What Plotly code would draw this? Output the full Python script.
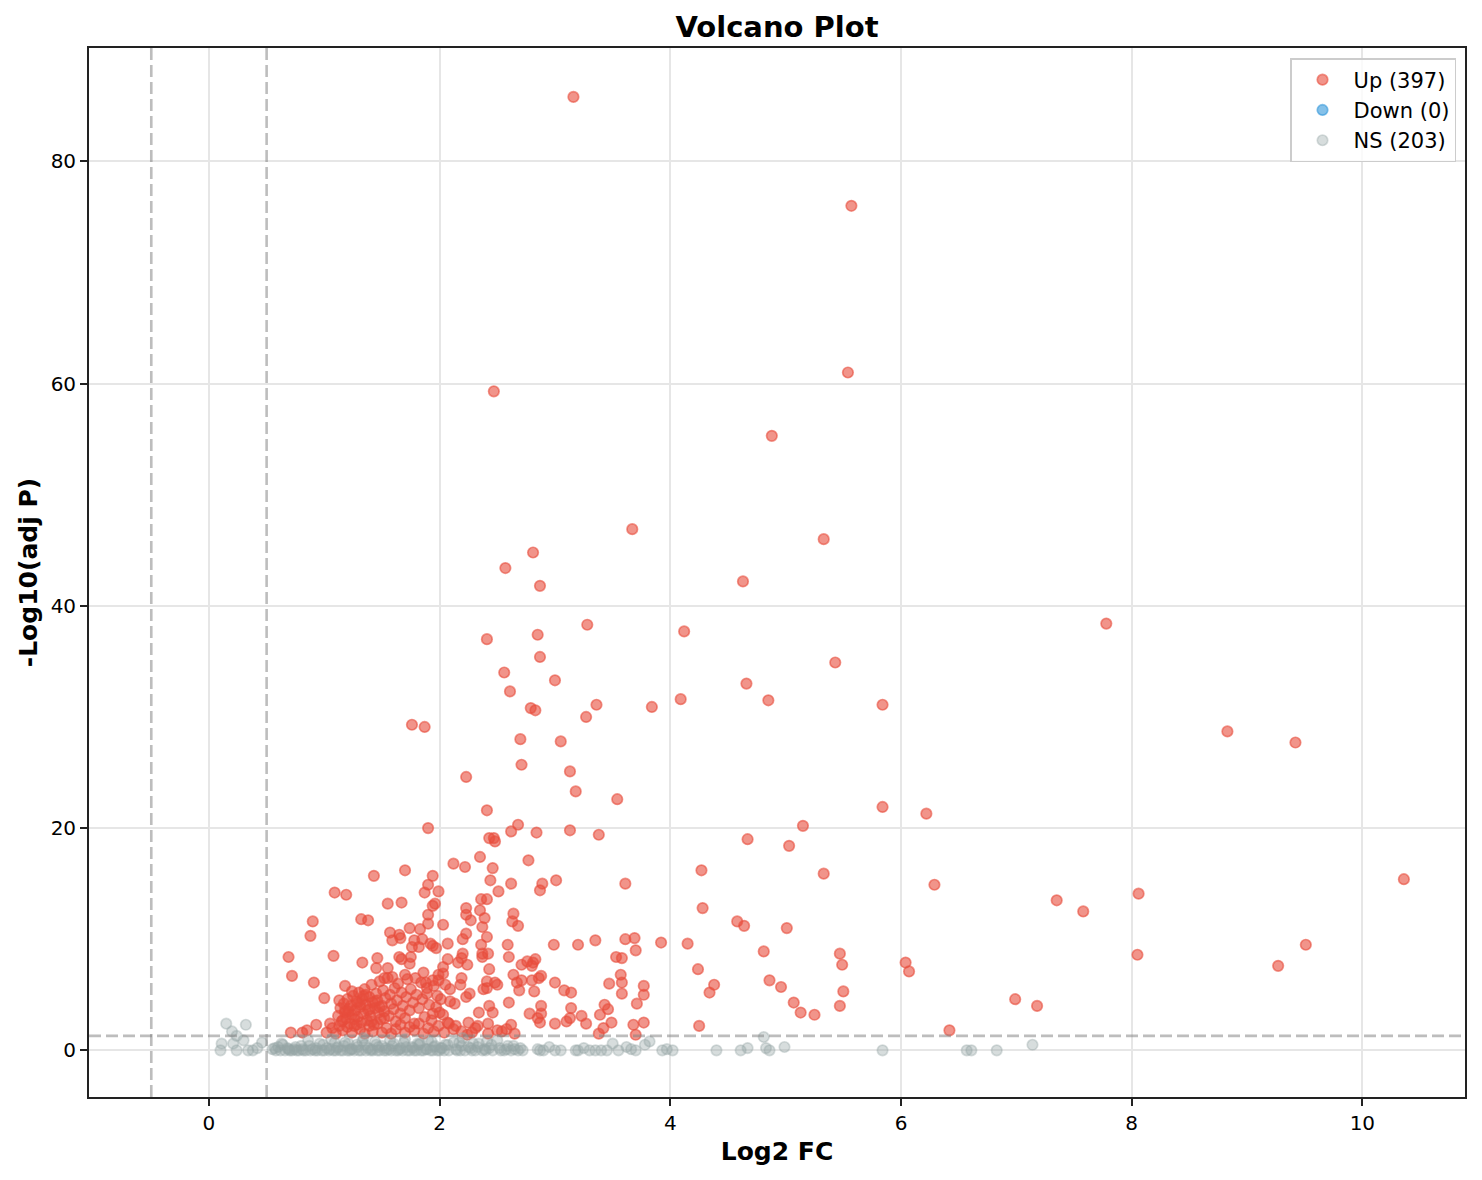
import plotly.graph_objects as go

# significantly up-regulated genes (log2 fold change, -log10 adjusted p)
up_log2fc = [
    3.16, 5.57, 5.54, 2.47, 4.88, 3.67, 5.33, 2.81, 2.57, 2.87, 4.63, 7.78, 3.28, 4.12, 2.41, 2.85,
    2.87, 5.43, 2.56, 3.00, 4.66, 2.61, 4.09, 4.85, 3.36, 5.84, 3.84, 2.79, 2.83, 3.27, 1.76, 1.87,
    8.83, 9.42, 2.70, 3.05, 2.71, 3.13, 2.23, 3.18, 3.54, 5.84, 2.41, 6.22, 2.68, 5.15, 1.90, 3.13,
    2.62, 2.84, 3.38, 2.43, 2.47, 2.48, 4.67, 5.03, 2.35, 2.77, 2.12, 2.22, 2.46, 1.70, 4.27, 5.33,
    1.94, 1.43, 10.36, 2.44, 3.01, 2.62, 2.89, 3.61, 6.29, 1.90, 2.87, 2.51, 1.87, 1.99, 1.09, 1.19,
    8.06, 7.35, 2.36, 2.41, 1.67, 1.55, 1.96, 1.94, 4.28, 2.23, 2.35, 7.58, 2.64, 2.23, 1.90, 2.39,
    1.32, 1.38, 2.27, 0.90, 4.58, 2.63, 1.90, 2.03, 2.68, 4.64, 2.37, 5.01, 1.74, 1.57, 2.23, 0.88,
    1.65, 2.41, 1.66, 3.69, 3.61, 2.20, 1.59, 3.35, 1.83, 1.78, 1.85, 3.92, 4.15, 2.07, 2.59, 2.99,
    3.20, 2.36, 9.51, 1.94, 1.97, 1.82, 1.76, 1.92, 3.70, 4.81, 5.47, 8.05, 2.37, 2.42, 2.20, 0.69,
    1.08, 2.37, 2.60, 3.53, 3.58, 1.46, 2.19, 2.07, 1.65, 1.67, 1.75, 1.74, 2.83, 2.76, 2.81, 1.33,
    2.16, 6.04, 2.71, 2.24, 5.49, 2.80, 9.27, 1.45, 1.55, 2.43, 4.24, 6.07, 2.03, 2.03, 1.86, 0.72,
    2.64, 3.57, 1.52, 1.59, 1.70, 1.79, 1.88, 1.94, 1.99, 2.19, 2.18, 2.41, 2.41, 2.38, 2.48, 2.50,
    2.67, 2.69, 2.71, 2.80, 2.82, 2.86, 2.88, 3.00, 3.08, 3.14, 3.47, 3.58, 3.58, 3.77, 3.77, 3.71,
    0.91, 1.18, 4.38, 4.34, 4.86, 4.96, 5.50, 2.09, 1.98, 1.89, 2.23, 2.26, 2.43, 2.46, 2.34, 2.60,
    2.88, 2.88, 3.14, 2.78, 3.43, 3.46, 2.13, 1.94, 2.00, 2.85, 2.87, 3.10, 3.13, 3.23, 3.27, 3.00,
    3.39, 3.49, 3.42, 3.38, 3.68, 3.77, 3.70, 2.14, 2.19, 2.24, 2.42, 2.42, 2.50, 2.54, 2.65, 2.25,
    2.33, 5.07, 5.47, 5.13, 5.25, 4.25, 6.42, 6.99, 7.18, 1.00, 0.71, 0.81, 0.85, 0.93, 1.05,
    1.12, 1.14, 1.15, 1.17, 1.18, 1.19, 1.20, 1.21, 1.22, 1.23, 1.24, 1.25, 1.26, 1.27, 1.28, 1.29,
    1.30, 1.31, 1.32, 1.33, 1.34, 1.35, 1.36, 1.37, 1.38, 1.39, 1.40, 1.41, 1.42, 1.43, 1.44, 1.45,
    1.46, 1.47, 1.48, 1.49, 1.50, 1.51, 1.52, 1.53, 1.55, 1.56, 1.57, 1.58, 1.60, 1.61, 1.62, 1.63,
    1.64, 1.66, 1.67, 1.68, 1.70, 1.71, 1.72, 1.74, 1.75, 1.77, 1.78, 1.80, 1.82, 1.84, 1.85, 1.87,
    1.89, 1.91, 1.93, 1.95, 1.97, 1.99, 2.01, 2.03, 2.05, 2.07, 2.09,
    1.02, 1.07, 1.10, 1.13, 1.16, 1.20, 1.24, 1.28, 1.31, 1.35, 1.39, 1.42, 1.46, 1.50, 1.54, 1.58,
    1.62, 1.66, 1.70, 1.74, 1.78, 1.82, 1.86, 1.90, 1.95, 1.99, 2.04, 2.08, 2.12, 2.28, 2.31, 2.58,
    2.62, 1.13, 1.21, 1.26, 1.34, 1.41, 1.48, 1.36, 1.29, 1.18, 1.44, 1.52, 1.24, 1.39, 1.31, 1.16,
]
up_neglogp = [
    85.8, 76.0, 61.0, 59.3, 55.3, 46.9, 46.0, 44.8, 43.4, 41.8, 42.2, 38.4, 38.3, 37.7, 37.0, 37.4,
    35.4, 34.9, 34.0, 33.3, 33.0, 32.3, 31.6, 31.5, 31.1, 31.1, 30.9, 30.8, 30.6, 30.0, 29.3, 29.1,
    28.7, 27.7, 28.0, 27.8, 25.7, 25.1, 24.6, 23.3, 22.6, 21.9, 21.6, 21.3, 20.3, 20.2, 20.0, 19.8,
    19.7, 19.6, 19.4, 19.1, 19.1, 18.8, 19.0, 18.4, 17.4, 17.1, 16.8, 16.5, 16.4, 16.2, 16.2, 15.9,
    15.7, 15.7, 15.4, 15.3, 15.3, 15.0, 15.0, 15.0, 14.9, 14.9, 14.4, 14.3, 14.2, 14.3, 14.2, 14.0,
    14.1, 13.5, 13.6, 13.6, 13.3, 13.2, 13.2, 13.0, 12.8, 12.8, 12.6, 12.5, 12.3, 12.2, 12.2, 11.9,
    11.8, 11.7, 11.7, 11.6, 11.6, 11.6, 11.4, 11.3, 11.2, 11.2, 11.1, 11.0, 11.0, 10.6, 10.5, 10.3,
    10.4, 10.2, 10.1, 10.1, 10.0, 10.0, 9.9, 9.9, 10.9, 9.9, 10.0, 9.7, 9.6, 9.6, 9.5, 9.5,
    9.5, 9.5, 9.5, 9.4, 9.2, 9.3, 9.3, 9.6, 9.0, 8.9, 8.7, 8.6, 8.7, 8.7, 8.7, 8.4,
    8.5, 8.4, 8.4, 8.4, 8.3, 8.3, 8.3, 8.2, 8.4, 8.2, 8.4, 7.8, 8.2, 8.0, 7.9, 7.9,
    7.9, 7.9, 7.7, 7.7, 7.7, 7.6, 7.6, 7.4, 7.4, 7.3, 7.3, 7.1, 7.5, 6.9, 7.0, 6.7,
    6.8, 6.8, 6.5, 6.6, 6.8, 6.5, 6.1, 6.3, 6.8, 6.5, 5.9, 6.2, 5.6, 5.5, 6.1, 5.9,
    6.1, 5.4, 6.3, 6.3, 5.3, 6.5, 6.7, 6.1, 5.4, 5.2, 6.0, 6.1, 5.1, 5.8, 5.0, 4.2,
    6.1, 5.8, 5.9, 5.2, 6.3, 5.7, 5.3, 5.5, 4.9, 5.1, 4.8, 5.1, 4.0, 3.4, 3.4, 4.3,
    4.0, 3.3, 3.8, 3.3, 4.1, 3.7, 4.2, 3.3, 3.4, 2.9, 2.5, 2.6, 2.9, 3.1, 2.4, 2.4,
    3.2, 2.5, 2.0, 1.5, 2.3, 2.5, 1.4, 2.2, 1.7, 1.4, 2.4, 1.5, 1.8, 1.7, 1.5, 2.5,
    2.2, 4.3, 4.0, 3.4, 3.2, 2.2, 1.8, 4.6, 4.0, 4.7, 1.6, 1.6, 1.8, 2.3, 2.4,
    3.1, 3.8, 2.6, 4.2, 3.4, 2.9, 4.6, 3.7, 2.4, 4.0, 3.2, 4.9, 2.8, 3.6, 4.4, 3.0,
    5.2, 3.9, 2.5, 4.6, 3.3, 5.5, 4.1, 2.7, 3.6, 4.8, 3.1, 5.9, 4.3, 2.3, 3.8, 5.1,
    4.5, 3.4, 6.2, 2.8, 4.0, 5.4, 3.5, 4.7, 6.5, 3.1, 5.0, 4.2, 3.7, 5.6, 2.6, 4.5,
    6.0, 3.3, 5.2, 4.0, 2.9, 4.8, 6.4, 3.6, 5.5, 4.3, 2.4, 5.0, 3.8, 6.1, 4.6, 3.0,
    5.6, 4.1, 2.7, 5.8, 3.9, 6.3, 4.6, 3.2, 5.9, 2.5, 4.4,
    1.6, 2.0, 1.5, 2.2, 1.8, 2.1, 1.6, 2.3, 1.9, 1.5, 2.2, 1.7, 2.4, 1.6, 2.0, 1.5,
    1.9, 2.3, 1.6, 2.1, 1.8, 2.4, 1.5, 2.0, 1.7, 2.2, 1.6, 2.4, 1.9, 1.6, 2.0, 1.9,
    2.3, 4.5, 3.5, 2.2, 4.9, 2.6, 3.9, 5.0, 4.3, 3.6, 4.4, 2.9, 5.3, 3.7, 4.1, 2.7,
]

# no down-regulated genes in this comparison (placeholder keeps the legend entry)
down_log2fc = [None]
down_neglogp = [None]

# not significant
ns_log2fc = [
    0.15, 0.32, 0.20, 0.24, 0.11, 0.21, 0.10, 0.24, 0.34, 0.38, 0.42, 0.46, 0.30,
    0.55, 0.58, 0.60, 0.62, 0.64, 0.66, 0.68, 0.70, 0.72, 0.74, 0.76, 0.78, 0.80, 0.82, 0.84, 0.86,
    0.88, 0.90, 0.92, 0.94, 0.96, 0.98, 1.00, 1.02, 1.04, 1.06, 1.08, 1.10, 1.12, 1.14, 1.16, 1.18,
    1.20, 1.22, 1.24, 1.26, 1.28, 1.30, 1.32, 1.34, 1.36, 1.38, 1.40, 1.42, 1.44, 1.46, 1.48, 1.50,
    1.52, 1.54, 1.56, 1.58, 1.60, 1.62, 1.64, 1.66, 1.68, 1.70, 1.72, 1.74, 1.76, 1.78, 1.80, 1.82,
    1.84, 1.86, 1.88, 1.90, 1.92, 1.94, 1.96, 1.98, 2.00, 2.02, 2.04, 2.08, 2.12, 2.15, 2.18, 2.20,
    2.22, 2.25, 2.28, 2.31, 2.34, 2.37, 2.40, 2.43, 2.46, 2.50, 2.53, 2.56, 2.59, 2.62, 2.65, 2.68,
    2.72, 2.85, 2.90, 2.95, 3.00, 3.05, 3.20, 3.25, 3.30, 3.35, 3.45, 3.50, 3.55, 3.62, 3.70, 3.78,
    3.82, 3.93, 3.97, 4.02, 4.40, 4.61, 4.67, 4.81, 4.83, 4.86, 4.99, 5.84, 6.57, 6.61, 6.83, 7.14,
    0.57, 0.63, 0.69, 0.75, 0.81, 0.87, 0.93, 0.99, 1.05, 1.11, 1.17, 1.23, 1.29, 1.35, 1.41, 1.47,
    1.53, 1.59, 1.65, 1.71, 1.77, 1.83, 1.89, 1.95, 2.01, 2.07, 2.14, 2.19, 2.27, 2.33, 2.39, 2.45,
    2.52, 2.58, 2.64, 2.70, 1.09, 1.21, 1.33, 1.45, 1.57, 1.69, 1.81, 1.93, 2.05, 2.17, 2.29, 2.41,
    2.87, 3.18, 3.40, 3.66,
]
ns_neglogp = [
    2.4, 2.3, 1.7, 1.3, 0.6, 0.6, 0.0, 0.0, 0.0, 0.0, 0.2, 0.7, 0.9,
    0.1, 0.0, 0.3, 0.0, 0.5, 0.0, 0.2, 0.0, 0.0, 0.1, 0.0, 0.0, 0.4, 0.0, 0.0, 0.9,
    0.0, 0.1, 0.0, 0.0, 0.6, 0.0, 0.0, 0.2, 0.0, 1.0, 0.0, 0.0, 0.3, 0.0, 0.0, 0.7,
    0.0, 0.0, 0.1, 0.0, 0.5, 0.0, 0.0, 1.1, 0.0, 0.2, 0.0, 0.0, 0.8, 0.0, 0.0, 0.4,
    0.0, 0.0, 0.1, 0.0, 0.6, 0.0, 0.0, 0.2, 0.0, 1.0, 0.0, 0.0, 0.3, 0.0, 0.0, 0.5,
    0.0, 0.0, 0.1, 0.9, 0.0, 0.0, 0.4, 0.0, 0.0, 0.2, 0.0, 0.0, 0.7, 0.0, 0.0, 1.1,
    0.0, 0.3, 0.0, 0.0, 0.6, 0.0, 0.0, 0.2, 0.0, 0.9, 0.0, 0.0, 0.4, 0.0, 0.1, 0.0,
    0.0, 0.1, 0.0, 0.3, 0.0, 0.0, 0.0, 0.2, 0.0, 0.0, 0.0, 0.6, 0.0, 0.3, 0.0, 0.5,
    0.8, 0.0, 0.1, 0.0, 0.0, 0.0, 0.2, 1.2, 0.2, 0.0, 0.3, 0.0, 0.0, 0.0, 0.0, 0.5,
    0.2, 0.6, 0.1, 0.3, 0.1, 0.4, 0.2, 0.5, 0.1, 0.2, 0.4, 0.1, 0.3, 0.5, 0.1, 0.3,
    0.2, 0.4, 0.1, 0.3, 0.2, 0.6, 0.1, 0.3, 0.2, 0.5, 0.1, 0.4, 0.2, 0.3, 0.1, 0.5,
    0.2, 0.1, 0.4, 0.2, 0.7, 0.6, 0.8, 0.5, 0.9, 0.7, 0.6, 0.8, 0.5, 0.7, 0.6, 0.8,
    0.0, 0.0, 0.0, 0.1,
]

legend_names = ["Up (397)", "Down (0)", "NS (203)"]

fc_cut = 0.5
p_cut = 1.30103  # -log10(0.05)

FONT = "DejaVu Sans"
W, H = 1466, 1164  # page body adds an 8px margin
L, R, T, B = 81, 7, 40, 75

fig = go.Figure()

fig.add_trace(go.Scatter(
    x=up_log2fc, y=up_neglogp, mode="markers", name=legend_names[0],
    marker=dict(size=10.5, color="rgba(231,76,60,0.6)", line=dict(width=1.7, color="rgba(231,76,60,0.6)")),
))
fig.add_trace(go.Scatter(
    x=down_log2fc, y=down_neglogp, mode="markers", name=legend_names[1],
    marker=dict(size=10.5, color="rgba(52,152,219,0.6)", line=dict(width=1.7, color="rgba(52,152,219,0.6)")),
))
fig.add_trace(go.Scatter(
    x=ns_log2fc, y=ns_neglogp, mode="markers", name=legend_names[2],
    marker=dict(size=10.5, color="rgba(149,165,166,0.38)", line=dict(width=1.7, color="rgba(149,165,166,0.38)")),
))

# threshold lines
dash_line = dict(color="rgba(128,128,128,0.52)", width=2.6, dash="12px,5px")
fig.add_shape(type="line", xref="x", yref="paper", x0=-fc_cut, x1=-fc_cut, y0=0, y1=1, line=dash_line)
fig.add_shape(type="line", xref="x", yref="paper", x0=fc_cut, x1=fc_cut, y0=0, y1=1, line=dash_line)
fig.add_shape(type="line", xref="paper", yref="y", x0=0, x1=1, y0=p_cut, y1=p_cut, line=dash_line)

fig.update_layout(
    width=W, height=H,
    margin=dict(l=L, r=R, t=T, b=B),
    paper_bgcolor="white", plot_bgcolor="white",
    font=dict(family=FONT, size=20, color="black"),
    title=dict(text="<b>Volcano Plot</b>", x=0.5, xref="paper", y=1 - 19 / H, yanchor="middle",
               font=dict(size=29, family=FONT, color="black")),
    legend=dict(x=(1450 - L) / (W - L - R), y=(H - B - 50) / (H - T - B), xanchor="right", yanchor="top",
                bgcolor="rgba(255,255,255,0.8)", bordercolor="#cccccc", borderwidth=1.5,
                font=dict(size=21, family=FONT), itemwidth=52),
    showlegend=True,
)

axis_common = dict(
    showline=True, linecolor="#222222", linewidth=1.8, mirror=True,
    ticks="outside", ticklen=7, tickwidth=1.7, tickcolor="#222222",
    showgrid=True, gridcolor="#e6e6e6", gridwidth=1.6,
    zeroline=False, tickfont=dict(size=20, family=FONT),
)

fig.update_xaxes(
    range=[-1.04, 10.89], tickvals=[0, 2, 4, 6, 8, 10],
    title=dict(text="<b>Log2 FC</b>", font=dict(size=25, family=FONT), standoff=9),
    **axis_common,
)
fig.update_yaxes(
    range=[-4.2, 90.2], tickvals=[0, 20, 40, 60, 80],
    title=dict(text="<b>-Log10(adj P)</b>", font=dict(size=25, family=FONT), standoff=6),
    **axis_common,
)

fig.write_html("out.html")
